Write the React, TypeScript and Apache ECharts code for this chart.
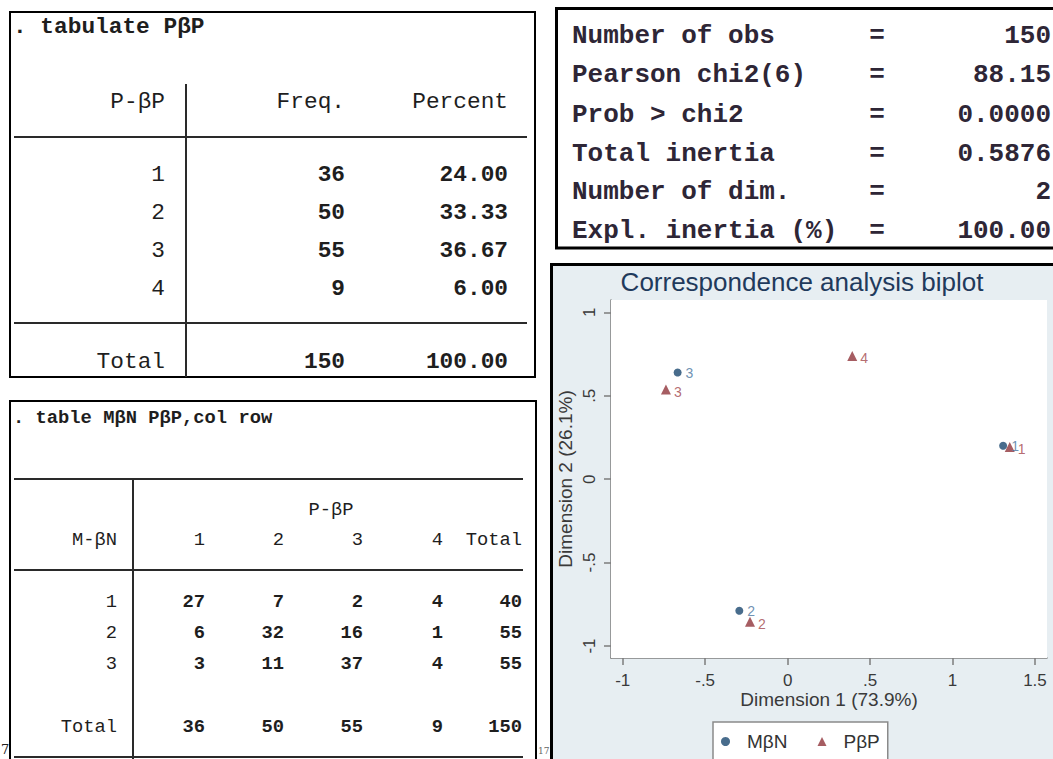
import React, { useEffect, useRef } from "react";
import * as echarts from "echarts";

// ---------- data ----------
const tab1Command = ". tabulate PβP";
const tab1Header = ["P-βP", "Freq.", "Percent"];
const tab1Levels = ["1", "2", "3", "4"];
const tab1Freq = ["36", "50", "55", "9"];
const tab1Percent = ["24.00", "33.33", "36.67", "6.00"];
const tab1Total = ["Total", "150", "100.00"];

const tab2Command = ". table MβN PβP,col row";
const tab2ColVar = "P-βP";
const tab2RowVar = "M-βN";
const tab2Cols = ["1", "2", "3", "4", "Total"];
const tab2Rows = ["1", "2", "3"];
const tab2Row1 = [27, 7, 2, 4, 40];
const tab2Row2 = [6, 32, 16, 1, 55];
const tab2Row3 = [3, 11, 37, 4, 55];
const tab2TotalLabel = "Total";
const tab2Totals = [36, 50, 55, 9, 150];

const statLabels = ["Number of obs", "Pearson chi2(6)", "Prob > chi2", "Total inertia", "Number of dim.", "Expl. inertia (%)"];
const statValues = ["150", "88.15", "0.0000", "0.5876", "2", "100.00"];

const biplotTitle = "Correspondence analysis biplot";
const xTitle = "Dimension 1 (73.9%)";
const yTitle = "Dimension 2 (26.1%)";
const xTicks = [-1, -0.5, 0, 0.5, 1, 1.5];
const yTicks = [-1, -0.5, 0, 0.5, 1];

const mbnName = "MβN";
const mbnLabels = ["1", "2", "3"];
const mbnDim1 = [1.307, -0.293, -0.667];
const mbnDim2 = [0.2, -0.789, 0.639];

const pbpName = "PβP";
const pbpLabels = ["1", "2", "3", "4"];
const pbpDim1 = [1.347, -0.228, -0.738, 0.392];
const pbpDim2 = [0.193, -0.854, 0.537, 0.738];

// ---------- helpers ----------
const MONO = '"Liberation Mono", "DejaVu Sans Mono", monospace';
const SANS = '"Liberation Sans", Arial, sans-serif';
const TXT = "#1e1e1e";

function txt(x: number, y: number, text: string, size: number, align: string, bold = false, fill = TXT, family = MONO, extra: any = {}) {
  return {
    type: "text",
    x,
    y,
    silent: true,
    style: {
      text,
      fill,
      font: `${bold ? "bold " : ""}${size}px ${family}`,
      textAlign: align,
      textVerticalAlign: "middle",
      verticalAlign: "middle",
      ...extra,
    },
  };
}
function hline(x1: number, x2: number, y: number, w = 2, c = "#2a2a2a") {
  return { type: "line", silent: true, shape: { x1, y1: y, x2, y2: y }, style: { stroke: c, lineWidth: w } };
}
function vline(x: number, y1: number, y2: number, w = 2, c = "#2a2a2a") {
  return { type: "line", silent: true, shape: { x1: x, y1, x2: x, y2 }, style: { stroke: c, lineWidth: w } };
}
function box(x: number, y: number, w: number, h: number, lw: number, fill = "#ffffff", z = 0) {
  return { type: "rect", silent: true, z, shape: { x, y, width: w, height: h }, style: { fill, stroke: "#000", lineWidth: lw } };
}
const fmtTick = (v: number) => {
  const r = Math.round(v * 10) / 10;
  if (r === 0) return "0";
  return String(r).replace(/^(-?)0\./, "$1.");
};

function buildGraphics() {
  const g: any[] = [];
  // ---- table 1 ----
  const f1 = 22.8;
  g.push(box(10, 12, 525, 365, 2));
  g.push(txt(13, 27, tab1Command, f1, "left", true));
  const c1 = [165, 345, 508];
  tab1Header.forEach((h, i) => g.push(txt(c1[i], 102, h, f1, "right")));
  g.push(vline(186, 84, 377));
  g.push(hline(14, 527, 137));
  const r1 = [175, 213, 251, 289];
  tab1Levels.forEach((lv, i) => {
    g.push(txt(c1[0], r1[i], lv, f1, "right"));
    g.push(txt(c1[1], r1[i], tab1Freq[i], f1, "right", true));
    g.push(txt(c1[2], r1[i], tab1Percent[i], f1, "right", true));
  });
  g.push(hline(14, 527, 323));
  g.push(txt(c1[0], 362, tab1Total[0], f1, "right"));
  g.push(txt(c1[1], 362, tab1Total[1], f1, "right", true));
  g.push(txt(c1[2], 362, tab1Total[2], f1, "right", true));

  // ---- table 2 ----
  const f2 = 18.8;
  g.push(box(10, 401, 526, 380, 2));
  g.push(txt(13, 418, tab2Command, f2, "left", true));
  g.push(hline(14, 523, 479));
  g.push(vline(133, 479, 760));
  g.push(txt(331, 510, tab2ColVar, f2, "center"));
  g.push(txt(117, 540, tab2RowVar, f2, "right"));
  const c2 = [205, 284, 363, 443, 522];
  tab2Cols.forEach((c, i) => g.push(txt(c2[i], 540, c, f2, "right")));
  g.push(hline(14, 523, 570));
  const rowsData = [tab2Row1, tab2Row2, tab2Row3];
  const r2 = [602, 633, 664];
  tab2Rows.forEach((rl, i) => {
    g.push(txt(117, r2[i], rl, f2, "right"));
    rowsData[i].forEach((v, j) => g.push(txt(c2[j], r2[i], String(v), f2, "right", true)));
  });
  g.push(txt(117, 727, tab2TotalLabel, f2, "right"));
  tab2Totals.forEach((v, j) => g.push(txt(c2[j], 727, String(v), f2, "right", true)));
  g.push(hline(14, 523, 757));
  // stray page fragments
  g.push(txt(1, 749, "7", 13, "left", false, "#222", '"DejaVu Serif", serif', { fontStyle: "italic" }));
  g.push(txt(538, 751, "17", 9, "left", false, "#666", '"DejaVu Serif", serif'));

  // ---- stats box ----
  const f3 = 26;
  g.push(box(556.5, 8.5, 520, 239.5, 3));
  const sr = [36, 75, 115, 154, 192, 231];
  statLabels.forEach((l, i) => {
    g.push(txt(572, sr[i], l, f3, "left", true, "#2e2636"));
    g.push(txt(877, sr[i], "=", f3, "center", true, "#2e2636"));
    g.push(txt(1051, sr[i], statValues[i], f3, "right", true, "#2e2636"));
  });

  // ---- chart box ----
  g.push(box(551.5, 264.5, 510, 500, 3, "#e7eef2", -10));
  g.push(txt(802, 282, biplotTitle, 26, "center", false, "#1f3a5c", SANS));
  return g;
}

export default function App() {
  const ref = useRef<HTMLDivElement>(null);
  useEffect(() => {
    if (!ref.current) return;
    const chart = echarts.init(ref.current, undefined, { renderer: "svg" });
    const axisGray = "#7d7d7d";
    const labelColor = "#3a3a3a";
    const option: any = {
      animation: false,
      backgroundColor: "transparent",
      graphic: { elements: buildGraphics() },
      grid: {
        left: 611,
        top: 300,
        width: 436,
        height: 358,
        show: true,
        backgroundColor: "#ffffff",
        borderWidth: 0,
        z: 1,
      },
      legend: {
        left: 713,
        top: 722,
        orient: "horizontal",
        backgroundColor: "#ffffff",
        borderColor: "#8a8a8a",
        borderWidth: 1.5,
        padding: [10, 8, 10, 8],
        itemWidth: 9,
        itemHeight: 9,
        itemGap: 30,
        data: [mbnName, pbpName],
        textStyle: { fontSize: 19, fontFamily: SANS, color: "#333", padding: [0, 0, 0, 12] },
      },
      xAxis: {
        type: "value",
        min: -1.071,
        max: 1.573,
        name: xTitle,
        nameLocation: "middle",
        nameGap: 32,
        nameTextStyle: { fontSize: 19, fontFamily: SANS, color: labelColor },
        axisLine: { show: true, onZero: false, lineStyle: { color: axisGray, width: 1.5 } },
        axisTick: { show: true, length: 7, customValues: xTicks, lineStyle: { color: axisGray, width: 1.5 } },
        axisLabel: { customValues: xTicks, formatter: fmtTick, fontSize: 17, fontFamily: SANS, color: labelColor, margin: 14 },
        splitLine: { show: false },
      },
      yAxis: {
        type: "value",
        min: -1.072,
        max: 1.074,
        name: yTitle,
        nameLocation: "middle",
        nameGap: 36,
        nameRotate: 90,
        nameTextStyle: { fontSize: 19, fontFamily: SANS, color: labelColor },
        axisLine: { show: true, onZero: false, lineStyle: { color: axisGray, width: 1.5 } },
        axisTick: { show: true, length: 7, customValues: yTicks, lineStyle: { color: axisGray, width: 1.5 } },
        axisLabel: { customValues: yTicks, formatter: fmtTick, rotate: 90, fontSize: 17, fontFamily: SANS, color: labelColor, margin: 13 },
        splitLine: { show: true, lineStyle: { color: "#e4edf0", width: 1.5 } },
      },
      series: [
        {
          type: "scatter",
          name: mbnName,
          symbol: "circle",
          symbolSize: 8,
          itemStyle: { color: "#1a476f" },
          data: mbnDim1.map((x, i) => [x, mbnDim2[i], mbnLabels[i]]),
          label: {
            show: true,
            position: "right",
            distance: 4,
            formatter: (p: any) => p.value[2],
            color: "#4a76a0",
            fontSize: 14,
            fontFamily: SANS,
          },
        },
        {
          type: "scatter",
          name: pbpName,
          symbol: "triangle",
          symbolSize: 10,
          itemStyle: { color: "#90353b" },
          data: pbpDim1.map((x, i) => [x, pbpDim2[i], pbpLabels[i]]),
          label: {
            show: true,
            position: "right",
            distance: 3,
            offset: [0, 2],
            formatter: (p: any) => p.value[2],
            color: "#a2464c",
            fontSize: 14,
            fontFamily: SANS,
          },
        },
      ],
    };
    chart.setOption(option);
    return () => chart.dispose();
  }, []);
  return (
    <div
      ref={ref}
      style={{ position: "absolute", left: 0, top: 0, width: 1053, height: 759, background: "#ffffff" }}
    />
  );
}
